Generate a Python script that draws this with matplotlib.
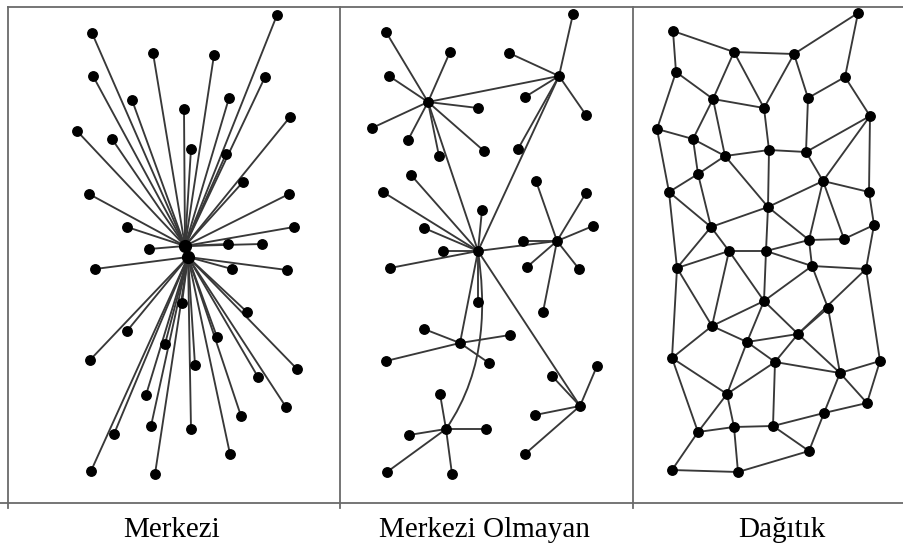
import matplotlib
matplotlib.use("Agg")
import matplotlib.pyplot as plt
from matplotlib.path import Path
from matplotlib.patches import PathPatch

# --- Merkezi (star) ---
merkezi_hubs = [(185, 246), (188, 257)]
merkezi_nodes = [(92, 33), (153, 53), (214, 55), (277, 15), (93, 76), (265, 77),
                 (132, 100), (229, 98), (184, 109), (290, 117), (77, 131), (112, 139),
                 (191, 149), (226, 154), (243, 182), (89, 194), (289, 194), (127, 227),
                 (294, 227), (228, 244), (262, 244), (149, 249),
                 (95, 269), (232, 269), (287, 270), (182, 303), (247, 312), (127, 331),
                 (217, 337), (165, 344), (90, 360), (195, 365), (297, 369), (258, 377),
                 (146, 395), (286, 407), (241, 416), (151, 426), (191, 429), (114, 434),
                 (230, 454), (91, 471), (155, 474)]

# --- Merkezi Olmayan (decentralised) ---
mo_hubs = {'A': (428, 102), 'B': (559, 76), 'C': (478, 251), 'D': (557, 241),
           'E': (460, 343), 'F': (446, 429), 'G': (580, 406)}
mo_spokes = {
    'A': [(386, 32), (450, 52), (389, 76), (478, 108), (372, 128), (408, 140), (439, 156), (484, 151)],
    'B': [(573, 14), (509, 53), (525, 97), (586, 115), (518, 149)],
    'C': [(411, 175), (383, 192), (482, 210), (424, 228), (443, 251), (390, 268), (478, 302)],
    'D': [(536, 181), (586, 193), (593, 226), (523, 241), (527, 267), (579, 269), (543, 312)],
    'E': [(424, 329), (510, 335), (386, 361), (489, 363)],
    'F': [(440, 394), (409, 435), (486, 429), (387, 472), (452, 474)],
    'G': [(597, 366), (552, 376), (535, 415), (525, 454)],
}
mo_links = [('A', 'B'), ('A', 'C'), ('B', 'C'), ('C', 'D'), ('C', 'E'), ('C', 'G')]
mo_curve = [(478, 251), (485, 300), (488, 368), (446, 429)]  # C -> F arc

# --- Dağıtık (distributed mesh) ---
dag_nodes = [(673, 31), (734, 52), (794, 54), (858, 13), (676, 72), (845, 77),
             (713, 99), (764, 108), (808, 98), (870, 116), (657, 129), (693, 139),
             (725, 156), (769, 150), (806, 152), (698, 174), (823, 181), (669, 192),
             (869, 192), (768, 207), (711, 227), (874, 225), (809, 240), (844, 239),
             (729, 251), (766, 251), (677, 268), (812, 266), (866, 269), (764, 301),
             (828, 308), (712, 326), (798, 334), (747, 342), (672, 358), (775, 362),
             (880, 361), (840, 373), (727, 394), (867, 403), (824, 413), (698, 432),
             (734, 427), (773, 426), (809, 451), (672, 470), (738, 472)]
dag_edges = [(1, 2), (1, 5), (2, 3), (3, 4), (4, 6), (2, 7), (2, 8), (3, 8), (3, 9),
             (5, 7), (5, 11), (6, 9), (6, 10), (7, 8), (7, 12), (7, 13), (8, 14), (9, 15),
             (10, 15), (10, 17), (10, 19), (11, 12), (11, 18), (12, 13), (12, 16),
             (13, 14), (13, 16), (13, 20), (14, 15), (14, 20), (15, 17), (16, 18),
             (16, 21), (17, 19), (17, 20), (17, 23), (17, 24), (18, 21), (18, 27),
             (19, 22), (20, 21), (20, 23), (20, 26), (21, 25), (21, 27), (22, 24),
             (22, 29), (23, 24), (23, 28), (23, 26), (25, 26), (25, 27), (25, 32),
             (25, 30), (26, 30), (26, 28), (27, 32), (27, 35), (28, 29), (28, 30),
             (28, 31), (29, 33), (29, 37), (30, 32), (30, 34), (30, 33), (31, 33),
             (31, 38), (32, 34), (32, 35), (33, 34), (33, 36), (33, 38), (34, 36),
             (34, 39), (35, 39), (35, 42), (36, 38), (36, 39), (36, 44), (37, 38),
             (37, 40), (38, 40), (38, 41), (39, 42), (39, 43), (40, 41), (41, 44),
             (41, 45), (42, 43), (42, 46), (43, 44), (43, 47), (44, 45), (45, 47),
             (46, 47)]

labels = ['Merkezi', 'Merkezi Olmayan', 'Dağıtık']
label_x = [172, 485, 782]

edge_kw = dict(color='#383838', lw=1.35, solid_capstyle='round', zorder=2)
node_kw = dict(ls='none', marker='o', color='black', ms=6.8, zorder=3)

fig = plt.figure(figsize=(9.04, 5.48), dpi=100)
ax = fig.add_axes([0, 0, 1, 1])
ax.set_xlim(0, 904)
ax.set_ylim(548, 0)
ax.axis('off')

# frame lines
frame_kw = dict(color='#6a6a6a', lw=1.3, zorder=1)
ax.plot([8, 904], [7, 7], **frame_kw)
ax.plot([0, 904], [503, 503], **frame_kw)
for xv in [8, 340, 633]:
    ax.plot([xv, xv], [7, 508], **frame_kw)

# Merkezi
for x, y in merkezi_nodes:
    hx, hy = merkezi_hubs[0] if y < 250 else merkezi_hubs[1]
    ax.plot([x, hx], [y, hy], **edge_kw)
ax.plot([p[0] for p in merkezi_nodes], [p[1] for p in merkezi_nodes], **node_kw)
ax.plot([p[0] for p in merkezi_hubs], [p[1] for p in merkezi_hubs],
        ls='none', marker='o', color='black', ms=8.5, zorder=3)

# Merkezi Olmayan
for h, pts in mo_spokes.items():
    hx, hy = mo_hubs[h]
    for x, y in pts:
        ax.plot([x, hx], [y, hy], **edge_kw)
    ax.plot([p[0] for p in pts], [p[1] for p in pts], **node_kw)
for a, b in mo_links:
    ax.plot([mo_hubs[a][0], mo_hubs[b][0]], [mo_hubs[a][1], mo_hubs[b][1]], **edge_kw)
curve = Path(mo_curve, [Path.MOVETO, Path.CURVE4, Path.CURVE4, Path.CURVE4])
ax.add_patch(PathPatch(curve, fill=False, edgecolor='#383838', lw=1.35, zorder=2))
ax.plot([p[0] for p in mo_hubs.values()], [p[1] for p in mo_hubs.values()], **node_kw)

# Dağıtık
for a, b in dag_edges:
    ax.plot([dag_nodes[a - 1][0], dag_nodes[b - 1][0]],
            [dag_nodes[a - 1][1], dag_nodes[b - 1][1]], **edge_kw)
ax.plot([p[0] for p in dag_nodes], [p[1] for p in dag_nodes], **node_kw)

for lx, txt in zip(label_x, labels):
    ax.text(lx, 537, txt, ha='center', va='baseline', fontsize=21,
            family='Liberation Serif', color='black')

fig.savefig('out.png', dpi=100)
